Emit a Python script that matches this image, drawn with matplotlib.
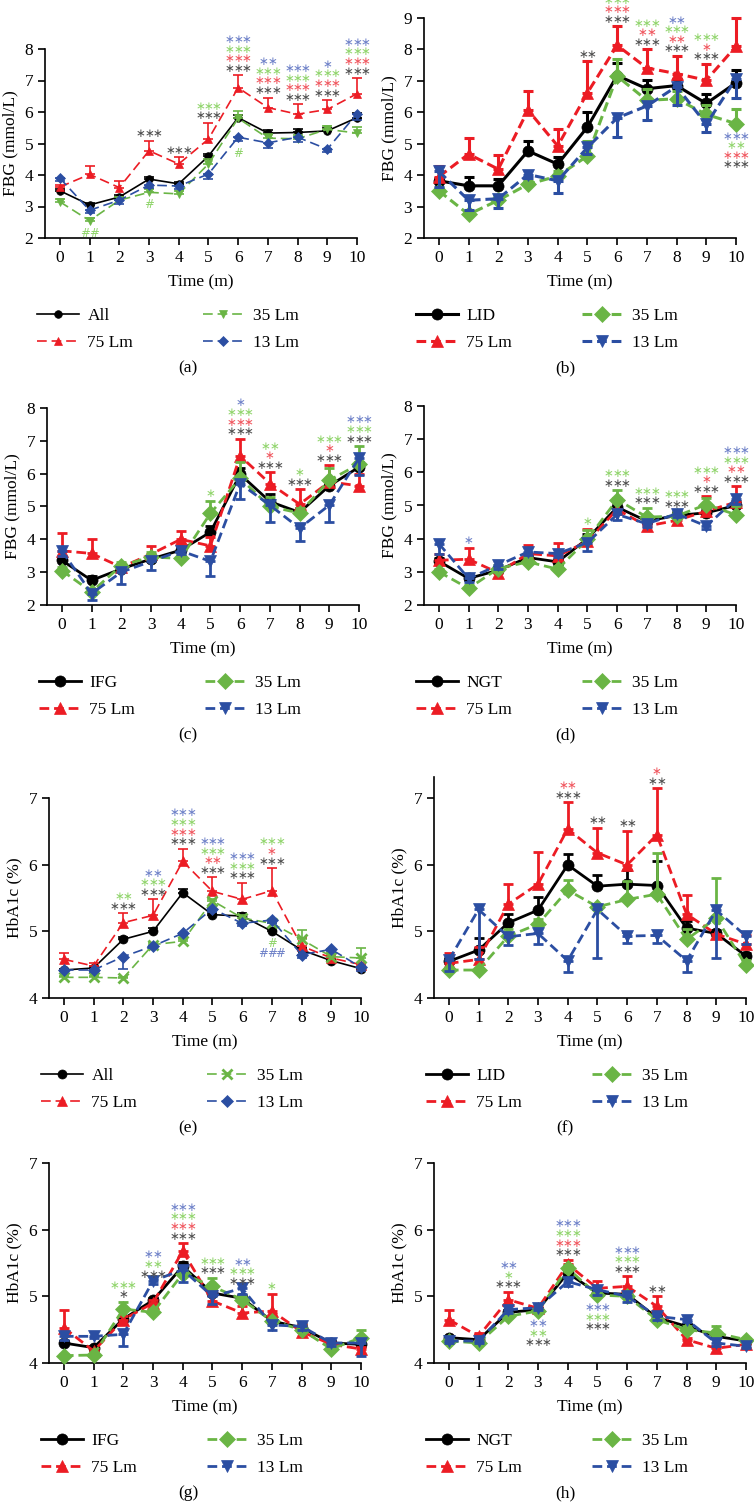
import numpy as np
import matplotlib.pyplot as plt

plt.rcParams['font.family'] = ['Liberation Serif', 'DejaVu Sans']
plt.rcParams['lines.scale_dashes'] = False

months = np.arange(11)
groups = ['75 Lm', '35 Lm', '13 Lm']

# rows: reference group, 75 Lm, 35 Lm, 13 Lm
# (a) FBG, all
a_mean = [[3.50, 3.05, 3.30, 3.87, 3.72, 4.60, 5.82, 5.33, 5.35, 5.40, 5.82],
          [3.62, 4.02, 3.60, 4.77, 4.35, 5.14, 6.77, 6.14, 5.93, 6.08, 6.58],
          [3.15, 2.55, 3.20, 3.45, 3.40, 4.35, 5.80, 5.17, 5.15, 5.45, 5.33],
          [3.90, 2.88, 3.20, 3.68, 3.65, 4.03, 5.20, 5.02, 5.20, 4.82, 5.95]]
a_err = [[0.05, 0.06, 0.08, 0.08, 0.06, 0.08, 0.10, 0.10, 0.12, 0.08, 0.15],
         [0.05, 0.28, 0.22, 0.32, 0.22, 0.52, 0.40, 0.32, 0.32, 0.30, 0.50],
         [0.10, 0.08, 0.10, 0.10, 0.08, 0.15, 0.22, 0.12, 0.12, 0.10, 0.20],
         [0.10, 0.10, 0.12, 0.10, 0.10, 0.15, 0.12, 0.15, 0.15, 0.08, 0.20]]
a_marks = [(1, 'down', 'g##'), (3, 'down', 'g#'), (3, 'up', 'k***'), (4, 'up', 'k***'),
           (5, 'up', 'k*** g***'), (6, 'up', 'k*** r*** g*** b***'), (6, 'down', 'g#'),
           (7, 'up', 'k*** r*** g*** b**'), (8, 'up', 'k*** r*** g*** b***'),
           (9, 'up', 'k*** r*** g*** b*'), (10, 'up', 'k*** r*** g*** b***')]

# (b) FBG, LID
b_mean = [[3.82, 3.66, 3.66, 4.77, 4.35, 5.53, 7.17, 6.75, 6.85, 6.28, 6.94],
          [3.95, 4.67, 4.19, 6.07, 4.93, 6.62, 8.13, 7.41, 7.23, 7.02, 8.10],
          [3.50, 2.75, 3.20, 3.71, 3.97, 4.61, 7.15, 6.38, 6.43, 5.93, 5.64],
          [4.12, 3.20, 3.25, 4.02, 3.82, 4.88, 5.82, 6.20, 6.82, 5.62, 7.07]]
b_err = [[0.10, 0.27, 0.21, 0.32, 0.23, 0.47, 0.40, 0.27, 0.20, 0.29, 0.39],
         [0.33, 0.50, 0.45, 0.60, 0.53, 1.00, 0.60, 0.60, 0.57, 0.53, 0.90],
         [0.10, 0.10, 0.15, 0.10, 0.15, 0.48, 0.55, 0.35, 0.25, 0.30, 0.45],
         [0.50, 0.30, 0.30, 0.10, 0.40, 0.20, 0.60, 0.45, 0.60, 0.25, 0.62]]
b_marks = [(5, 'up', 'k**'), (6, 'up', 'k*** r*** g***'), (7, 'up', 'k*** r** g***'),
           (8, 'up', 'k*** r** g*** b**'), (9, 'up', 'k*** r* g***'),
           (10, 'down', 'k*** r*** g** b***')]

# (c) FBG, IFG
c_mean = [[3.36, 2.75, 3.10, 3.40, 3.67, 4.22, 5.98, 5.15, 4.82, 5.63, 6.20],
          [3.65, 3.57, 3.15, 3.55, 4.00, 3.80, 6.54, 5.70, 5.07, 5.75, 5.63],
          [3.05, 2.40, 3.20, 3.46, 3.42, 4.79, 5.86, 5.00, 4.80, 5.80, 6.29],
          [3.65, 2.35, 3.00, 3.33, 3.65, 3.33, 5.70, 5.04, 4.34, 5.04, 6.47]]
c_err = [[0.08, 0.12, 0.10, 0.10, 0.10, 0.18, 0.20, 0.22, 0.12, 0.10, 0.15],
         [0.55, 0.43, 0.10, 0.25, 0.24, 0.28, 0.53, 0.34, 0.45, 0.50, 0.37],
         [0.10, 0.10, 0.12, 0.15, 0.10, 0.38, 0.50, 0.28, 0.15, 0.38, 0.55],
         [0.15, 0.20, 0.35, 0.25, 0.10, 0.45, 0.48, 0.50, 0.38, 0.50, 0.50]]
c_marks = [(5, 'up', 'g*'), (6, 'up', 'k*** r*** g*** b*'), (7, 'up', 'k*** r* g**'),
           (8, 'up', 'k*** g*'), (9, 'up', 'k*** r* g***'), (10, 'up', 'k*** g*** b***')]

# (d) FBG, NGT
d_mean = [[3.32, 2.80, 3.05, 3.43, 3.30, 4.00, 4.95, 4.53, 4.70, 4.78, 5.00],
          [3.35, 3.38, 2.97, 3.55, 3.48, 3.92, 4.88, 4.38, 4.55, 4.83, 5.10],
          [3.00, 2.50, 3.10, 3.30, 3.08, 3.98, 5.18, 4.65, 4.68, 5.03, 4.72],
          [3.85, 2.80, 3.20, 3.60, 3.55, 3.88, 4.73, 4.45, 4.75, 4.38, 5.20]]
d_err = [[0.10, 0.08, 0.08, 0.10, 0.10, 0.15, 0.15, 0.10, 0.10, 0.10, 0.15],
         [0.20, 0.35, 0.10, 0.25, 0.38, 0.38, 0.35, 0.10, 0.10, 0.45, 0.48],
         [0.10, 0.10, 0.10, 0.15, 0.10, 0.27, 0.28, 0.28, 0.15, 0.20, 0.25],
         [0.30, 0.10, 0.10, 0.10, 0.10, 0.25, 0.18, 0.10, 0.10, 0.10, 0.15]]
d_marks = [(1, 'up', 'b*'), (5, 'up', 'g*'), (6, 'up', 'k*** g***'), (7, 'up', 'k*** g***'),
           (8, 'up', 'k*** g***'), (9, 'up', 'k*** r* g***'), (10, 'up', 'k*** r** g*** b***')]

# (e) HbA1c, all
e_mean = [[4.42, 4.45, 4.88, 5.00, 5.58, 5.25, 5.23, 5.00, 4.72, 4.56, 4.44],
          [4.58, 4.48, 5.13, 5.24, 6.05, 5.60, 5.48, 5.61, 4.78, 4.60, 4.50],
          [4.31, 4.31, 4.30, 4.80, 4.85, 5.46, 5.20, 5.12, 4.88, 4.62, 4.60],
          [4.42, 4.42, 4.62, 4.78, 4.97, 5.34, 5.12, 5.17, 4.65, 4.73, 4.46]]
e_err = [[0.02, 0.03, 0.04, 0.05, 0.05, 0.03, 0.05, 0.03, 0.03, 0.02, 0.03],
         [0.09, 0.05, 0.14, 0.24, 0.19, 0.21, 0.25, 0.34, 0.12, 0.03, 0.03],
         [0.02, 0.02, 0.02, 0.03, 0.03, 0.03, 0.05, 0.05, 0.14, 0.05, 0.15],
         [0.02, 0.03, 0.19, 0.03, 0.03, 0.05, 0.04, 0.04, 0.05, 0.03, 0.05]]
e_marks = [(2, 'up', 'k*** g**'), (3, 'up', 'k*** g*** b**'), (4, 'up', 'k*** r*** g*** b***'),
           (5, 'up', 'k*** r** g*** b***'), (6, 'up', 'k*** g*** b***'),
           (7, 'up', 'k*** r* g***'), (7, 'down', 'b### g#')]

# (f) HbA1c, LID
f_mean = [[4.55, 4.72, 5.13, 5.32, 6.00, 5.68, 5.71, 5.69, 5.05, 4.97, 4.63],
          [4.52, 4.58, 5.41, 5.71, 6.54, 6.18, 6.00, 6.45, 5.26, 4.96, 4.81],
          [4.42, 4.42, 4.93, 5.11, 5.62, 5.37, 5.48, 5.56, 4.88, 5.20, 4.49],
          [4.57, 5.33, 4.92, 4.97, 4.56, 5.33, 4.93, 4.94, 4.56, 5.32, 4.93]]
f_err = [[0.05, 0.18, 0.13, 0.20, 0.17, 0.17, 0.22, 0.37, 0.10, 0.05, 0.05],
         [0.15, 0.19, 0.30, 0.48, 0.40, 0.38, 0.51, 0.70, 0.29, 0.25, 0.14],
         [0.03, 0.03, 0.10, 0.07, 0.15, 0.03, 0.28, 0.62, 0.15, 0.60, 0.08],
         [0.17, 0.74, 0.12, 0.16, 0.17, 0.73, 0.10, 0.12, 0.17, 0.72, 0.12]]
f_marks = [(4, 'up', 'k*** r**'), (5, 'up', 'k**'), (6, 'up', 'k**'), (7, 'up', 'k** r*')]

# (g) HbA1c, IFG
g_mean = [[4.30, 4.23, 4.66, 4.94, 5.45, 5.05, 4.97, 4.63, 4.53, 4.30, 4.28],
          [4.53, 4.18, 4.65, 4.90, 5.68, 4.93, 4.75, 4.78, 4.47, 4.28, 4.21],
          [4.11, 4.12, 4.81, 4.76, 5.34, 5.15, 4.95, 4.63, 4.50, 4.21, 4.38],
          [4.40, 4.40, 4.43, 5.23, 5.40, 5.00, 5.12, 4.57, 4.55, 4.30, 4.30]]
g_err = [[0.03, 0.03, 0.05, 0.03, 0.07, 0.05, 0.05, 0.05, 0.05, 0.03, 0.03],
         [0.26, 0.03, 0.05, 0.05, 0.12, 0.10, 0.10, 0.26, 0.10, 0.03, 0.03],
         [0.03, 0.03, 0.11, 0.05, 0.05, 0.13, 0.05, 0.03, 0.05, 0.03, 0.12],
         [0.05, 0.03, 0.18, 0.05, 0.18, 0.12, 0.08, 0.08, 0.05, 0.05, 0.20]]
g_marks = [(2, 'up', 'k* g***'), (3, 'up', 'k*** g** b**'), (4, 'up', 'k*** r*** g*** b***'),
           (5, 'up', 'k*** g***'), (6, 'up', 'k*** g*** b**'), (7, 'up', 'g*')]

# (h) HbA1c, NGT
h_mean = [[4.38, 4.35, 4.76, 4.80, 5.35, 5.05, 5.03, 4.68, 4.55, 4.40, 4.33],
          [4.65, 4.40, 4.95, 4.82, 5.48, 5.12, 5.15, 4.85, 4.35, 4.22, 4.28],
          [4.33, 4.30, 4.70, 4.78, 5.42, 5.02, 5.00, 4.65, 4.50, 4.45, 4.35],
          [4.33, 4.33, 4.80, 4.83, 5.22, 5.10, 5.00, 4.70, 4.65, 4.30, 4.25]]
h_err = [[0.03, 0.03, 0.04, 0.03, 0.05, 0.04, 0.04, 0.04, 0.03, 0.03, 0.03],
         [0.15, 0.05, 0.12, 0.03, 0.07, 0.11, 0.15, 0.15, 0.03, 0.03, 0.03],
         [0.03, 0.03, 0.05, 0.03, 0.05, 0.05, 0.05, 0.03, 0.05, 0.10, 0.03],
         [0.03, 0.03, 0.05, 0.03, 0.06, 0.08, 0.08, 0.05, 0.03, 0.05, 0.03]]
h_marks = [(2, 'up', 'k*** g* b**'), (3, 'down', 'k*** g** b**'), (4, 'up', 'k*** r*** g*** b***'),
           (5, 'down', 'k*** g*** b***'), (6, 'up', 'k*** g*** b***'), (7, 'up', 'k**')]

line_cols = ['#000000', '#ec1c24', '#6ab545', '#2b4ea2']
star_cols = {'k': '#4d4d4d', 'r': '#f0555d', 'g': '#8fd46a', 'b': '#6d80c8'}

# name, ref label, mean, err, marks, ylabel, ylim, markers, lw, ms, rect px (left, top, bottom)
panels = [
    ('a', 'All', a_mean, a_err, a_marks, 'FBG (mmol/L)', (2, 8), ['o', '^', 'v', 'D'], 1.2, 5.5, (45, 49, 238)),
    ('b', 'LID', b_mean, b_err, b_marks, 'FBG (mmol/L)', (2, 9), ['o', '^', 'D', 'v'], 2.2, 8, (424, 18, 238)),
    ('c', 'IFG', c_mean, c_err, c_marks, 'FBG (mmol/L)', (2, 8), ['o', '^', 'D', 'v'], 2.0, 8, (47, 408, 605)),
    ('d', 'NGT', d_mean, d_err, d_marks, 'FBG (mmol/L)', (2, 8), ['o', '^', 'D', 'v'], 2.0, 8, (424, 406, 605)),
    ('e', 'All', e_mean, e_err, e_marks, 'HbA1c (%)', (4, 7), ['o', '^', 'x', 'D'], 1.2, 6.5, (49, 798, 998)),
    ('f', 'LID', f_mean, f_err, f_marks, 'HbA1c (%)', (4, 7.32), ['o', '^', 'D', 'v'], 2.0, 8, (434, 777, 998)),
    ('g', 'IFG', g_mean, g_err, g_marks, 'HbA1c (%)', (4, 7), ['o', '^', 'D', 'v'], 2.0, 8, (49, 1163, 1363)),
    ('h', 'NGT', h_mean, h_err, h_marks, 'HbA1c (%)', (4, 7), ['o', '^', 'D', 'v'], 2.0, 8, (434, 1163, 1363)),
]

W, H = 754, 1508
fig = plt.figure(figsize=(W / 100, H / 100), dpi=100)

for name, ref, mean, err, marks, ylab, ylim, mk, lw, ms, (left, top, bot) in panels:
    ax = fig.add_axes([left / W, 1 - bot / H, 312 / W, (bot - top) / H])
    mean = np.array(mean)
    err = np.array(err)
    labels = [ref] + groups
    handles = []
    for i in range(4):
        lo = err[i] if i == 3 else np.zeros(11)
        hi = np.zeros(11) if i == 3 else err[i]
        ax.errorbar(months, mean[i], yerr=[lo, hi], fmt='none', ecolor=line_cols[i],
                    elinewidth=lw, capsize=3.5, capthick=lw, zorder=2 + i, clip_on=False)
        ls = '-' if i == 0 else (0, (7, 3.5))
        mew = 2 if mk[i] == 'x' else 0.5
        h, = ax.plot(months, mean[i], ls=ls, color=line_cols[i], lw=lw, marker=mk[i],
                     ms=ms, mew=mew, mec=line_cols[i], zorder=3 + i, clip_on=False,
                     label=labels[i])
        handles.append(h)

    # significance marks stacked above (or below) the group values
    tops = mean + np.where(np.arange(4)[:, None] == 3, 0, err)
    bots = mean - np.where(np.arange(4)[:, None] == 3, err, 0)
    for x, side, spec in marks:
        rows = spec.split()
        for j, r in enumerate(rows):
            if side == 'up':
                y0 = tops[:, x].max()
                off = 5 + j * 6.9
            else:
                y0 = bots[:, x].min()
                off = -(9 + (len(rows) - 1 - j) * 6.9)
            n = len(r) - 1
            for k, ch in enumerate(r[1:]):
                ax.annotate(ch.replace('*', '\u2217'), (x, y0),
                            xytext=((k - (n - 1) / 2) * 6.0, off), textcoords='offset points',
                            ha='center', va='center', fontsize=8.5, color=star_cols[r[0]],
                            family=['DejaVu Sans'], annotation_clip=False, zorder=10)

    ax.set_xlim(-0.5, 10)
    ax.set_ylim(*ylim)
    ax.set_xticks(months)
    ax.set_yticks(np.arange(int(ylim[0]), int(ylim[1]) + 1))
    for s in ['top', 'right']:
        ax.spines[s].set_visible(False)
    for s in ['left', 'bottom']:
        ax.spines[s].set_linewidth(1.2)
    ax.tick_params(direction='out', length=5, width=1.2, labelsize=12.5)
    ax.set_xlabel('Time (m)', fontsize=12.5, labelpad=6)
    ax.set_ylabel(ylab, fontsize=12.5, labelpad=4)

    fig.legend(handles, labels, ncol=2, frameon=False,
               loc='upper left', bbox_to_anchor=((left - 8) / W, 1 - (bot + 70) / H),
               fontsize=12.5, handlelength=2.4, handletextpad=0.5, columnspacing=4.0,
               labelspacing=0.6, borderpad=0, borderaxespad=0)
    cx = 188 if left < 300 else 565
    fig.text(cx / W, 1 - (bot + 130) / H, '(%s)' % name, ha='center', va='center', fontsize=12.5)

fig.savefig('out.png', dpi=100)
